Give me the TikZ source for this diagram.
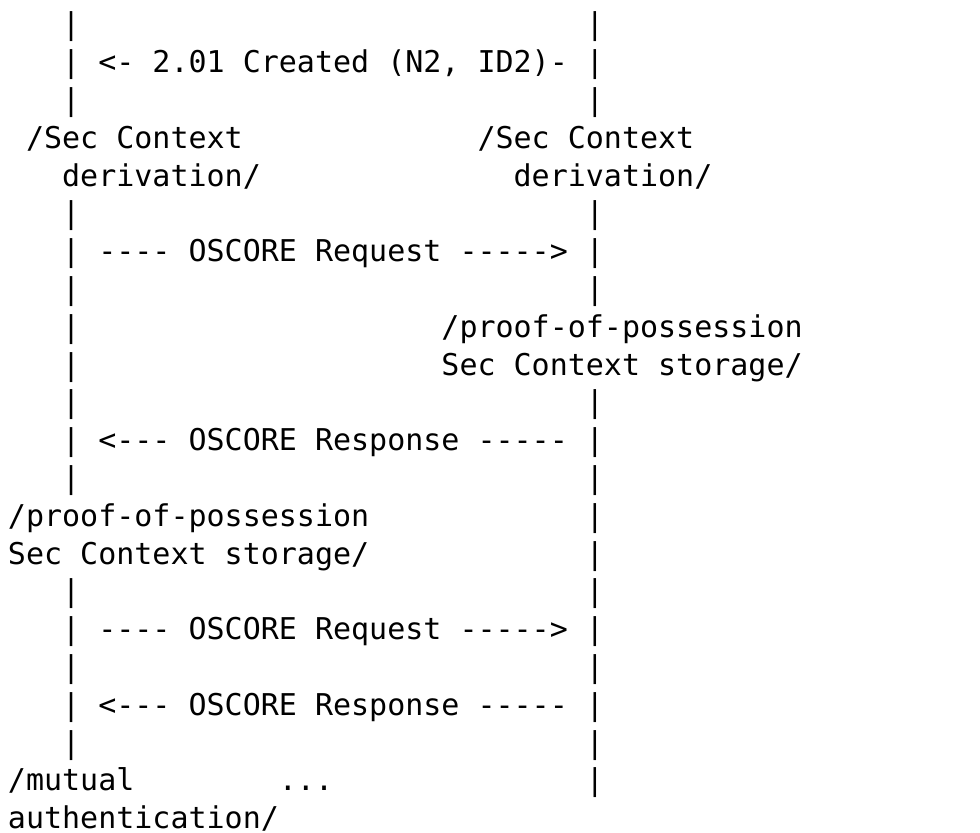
\documentclass[tikz,border=0pt]{standalone}
\usepackage{fontspec}
\setmonofont{DejaVu Sans Mono}
\newcommand{\cw}{9.03}
\tikzset{
  txt/.style={anchor=base west, inner sep=0pt, outer sep=0pt, font=\ttfamily\fontsize{15}{15}\selectfont, text=black},
}
% place text at column #1, row #2
\newcommand{\putat}[4]{\node[txt] (#1) at ({4pt+#2*\cw pt},{-(17.45pt+#3*18.9pt)}) {#4};}
\begin{document}
\begin{tikzpicture}[x=1pt,y=1pt]
\useasboundingbox[fill=white] (0,0) rectangle (490,-416.5);
% line 0
\putat{bl0}{3}{0}{|}\putat{br0}{32}{0}{|}
% line 1
\putat{bl1}{3}{1}{|}\putat{created}{5}{1}{<-~2.01~Created~(N2,~ID2)-}\putat{br1}{32}{1}{|}
% line 2
\putat{bl2}{3}{2}{|}\putat{br2}{32}{2}{|}
% lines 3-4
\putat{derL1}{1}{3}{/Sec~Context}\putat{derR1}{26}{3}{/Sec~Context}
\putat{derL2}{3}{4}{derivation/}\putat{derR2}{28}{4}{derivation/}
% line 5
\putat{bl5}{3}{5}{|}\putat{br5}{32}{5}{|}
% line 6
\putat{bl6}{3}{6}{|}\putat{req1}{5}{6}{----~OSCORE~Request~----->}\putat{br6}{32}{6}{|}
% line 7
\putat{bl7}{3}{7}{|}\putat{br7}{32}{7}{|}
% lines 8-9
\putat{bl8}{3}{8}{|}\putat{popR1}{24}{8}{/proof-of-possession}
\putat{bl9}{3}{9}{|}\putat{popR2}{24}{9}{Sec~Context~storage/}
% line 10
\putat{bl10}{3}{10}{|}\putat{br10}{32}{10}{|}
% line 11
\putat{bl11}{3}{11}{|}\putat{resp1}{5}{11}{<---~OSCORE~Response~-----}\putat{br11}{32}{11}{|}
% line 12
\putat{bl12}{3}{12}{|}\putat{br12}{32}{12}{|}
% lines 13-14
\putat{popL1}{0}{13}{/proof-of-possession}\putat{br13}{32}{13}{|}
\putat{popL2}{0}{14}{Sec~Context~storage/}\putat{br14}{32}{14}{|}
% line 15
\putat{bl15}{3}{15}{|}\putat{br15}{32}{15}{|}
% line 16
\putat{bl16}{3}{16}{|}\putat{req2}{5}{16}{----~OSCORE~Request~----->}\putat{br16}{32}{16}{|}
% line 17
\putat{bl17}{3}{17}{|}\putat{br17}{32}{17}{|}
% line 18
\putat{bl18}{3}{18}{|}\putat{resp2}{5}{18}{<---~OSCORE~Response~-----}\putat{br18}{32}{18}{|}
% line 19
\putat{bl19}{3}{19}{|}\putat{br19}{32}{19}{|}
% lines 20-21
\putat{mut1}{0}{20}{/mutual}\putat{dots}{15}{20}{...}\putat{br20}{32}{20}{|}
\putat{mut2}{0}{21}{authentication/}
\end{tikzpicture}
\end{document}
